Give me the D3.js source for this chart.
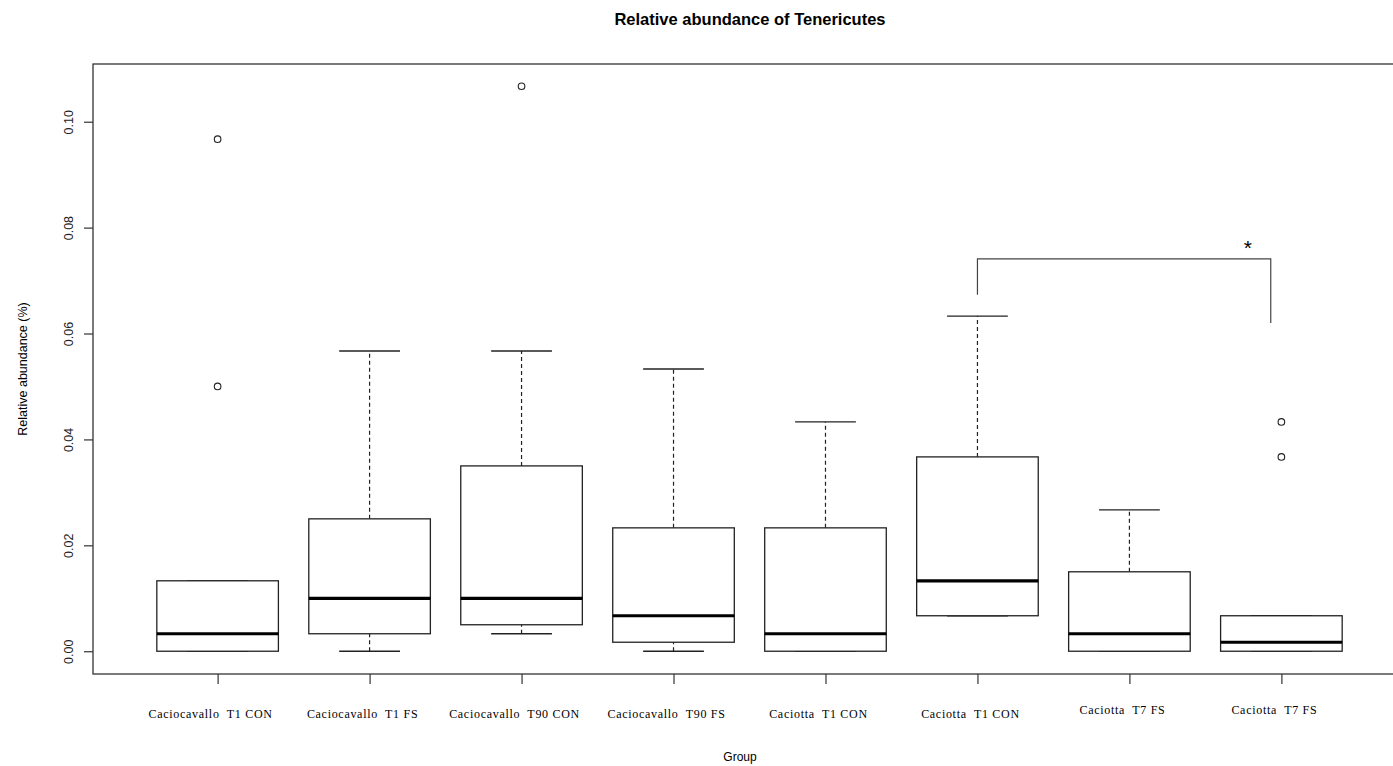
<!DOCTYPE html>
<html>
<head>
<meta charset="utf-8">
<script src="https://cdn.jsdelivr.net/npm/d3@7"></script>
<style>
body { margin: 0; background: #fff; }
svg { display: block; }
.axis path, .axis line { stroke: #333; stroke-width: 1.2; }
.axis text { font-family: "Liberation Sans", Arial, sans-serif; font-size: 12.5px; fill: #222; }
</style>
</head>
<body>
<svg id="chart"></svg>
<script>
// groups and box stats
var groups = ["Caciocavallo  T1 CON", "Caciocavallo  T1 FS", "Caciocavallo  T90 CON", "Caciocavallo  T90 FS",
              "Caciotta  T1 CON", "Caciotta  T1 CON", "Caciotta  T7 FS", "Caciotta  T7 FS"];
var lows    = [0,      0,      0.0033, 0,      0,      0.0067, 0,      0];
var q1s     = [0,      0.0033, 0.005,  0.0017, 0,      0.0067, 0,      0];
var medians = [0.0033, 0.0100, 0.0100, 0.0067, 0.0033, 0.0133, 0.0033, 0.0017];
var q3s     = [0.0133, 0.0250, 0.0350, 0.0233, 0.0233, 0.0367, 0.0150, 0.0067];
var highs   = [0.0133, 0.0567, 0.0567, 0.0533, 0.0433, 0.0633, 0.0267, 0.0067];
var outliers = [[0.05, 0.0967], [], [0.1067], [], [], [], [], [0.0367, 0.0433]];
var yTicks = [0, 0.02, 0.04, 0.06, 0.08, 0.10];

// significance bracket between group 6 and 8
var bracket = {from: 6, to: 7.93, top: 0.0741, leftEnd: 0.0673, rightEnd: 0.062, starX: 7.78};

var width = 1393, height = 766;
var svg = d3.select("#chart").attr("width", width).attr("height", height);

var x = d3.scaleLinear().domain([0.18, 8.82]).range([93, 1406]);
var y = d3.scaleLinear().domain([-0.0043, 0.1109]).range([674, 64]);

var data = groups.map(function(g, i) {
    return {name: g, pos: i + 1, lo: lows[i], q1: q1s[i], med: medians[i], q3: q3s[i], hi: highs[i], out: outliers[i]};
});

// title
svg.append("text")
    .attr("x", 750).attr("y", 25)
    .attr("text-anchor", "middle")
    .style("font-family", "Liberation Sans, Arial, sans-serif")
    .style("font-size", "16.5px").style("font-weight", "bold")
    .text("Relative abundance of Tenericutes");

// frame
svg.append("rect")
    .attr("x", x.range()[0]).attr("y", y.range()[1])
    .attr("width", x.range()[1] - x.range()[0])
    .attr("height", y.range()[0] - y.range()[1])
    .attr("fill", "none").attr("stroke", "#333").attr("stroke-width", 1.3);

// y axis
var yAxis = svg.append("g").attr("class", "axis")
    .attr("transform", "translate(93,0)")
    .call(d3.axisLeft(y).tickValues(yTicks).tickSize(9).tickFormat(d3.format(".2f")));
yAxis.select(".domain").remove();
yAxis.selectAll("text")
    .attr("x", 0).attr("dy", 0)
    .attr("text-anchor", "middle")
    .attr("transform", "translate(-20,0) rotate(-90)");

// x axis ticks
var xAxis = svg.append("g").attr("class", "axis")
    .attr("transform", "translate(0,674)")
    .call(d3.axisBottom(x).tickValues(data.map(function(d){ return d.pos; })).tickSize(10).tickFormat(""));
xAxis.select(".domain").remove();

// group labels
svg.selectAll(".glabel")
    .data(data).enter()
    .append("text")
    .attr("class", "glabel")
    .attr("x", function(d){ return x(d.pos) - 7; })
    .attr("y", function(d, i){ return i >= 6 ? 714 : 718; })
    .attr("text-anchor", "middle")
    .style("font-family", "Liberation Serif, Times New Roman, serif")
    .style("font-size", "12px")
    .style("letter-spacing", "0.7px")
    .style("white-space", "pre")
    .text(function(d){ return d.name; });

// axis titles
svg.append("text")
    .attr("x", 740).attr("y", 761)
    .attr("text-anchor", "middle")
    .style("font-family", "Liberation Sans, Arial, sans-serif").style("font-size", "12px")
    .text("Group");
svg.append("text")
    .attr("transform", "translate(27,369) rotate(-90)")
    .attr("text-anchor", "middle")
    .style("font-family", "Liberation Sans, Arial, sans-serif").style("font-size", "12.5px")
    .text("Relative abundance (%)");

// boxes
var box = svg.selectAll(".box").data(data).enter().append("g").attr("class", "box");

// whiskers (dashed)
box.append("line")
    .attr("x1", function(d){ return x(d.pos); }).attr("x2", function(d){ return x(d.pos); })
    .attr("y1", function(d){ return y(d.q3); }).attr("y2", function(d){ return y(d.hi); })
    .attr("stroke", "#222").attr("stroke-width", 1.2).attr("stroke-dasharray", "4,3");
box.append("line")
    .attr("x1", function(d){ return x(d.pos); }).attr("x2", function(d){ return x(d.pos); })
    .attr("y1", function(d){ return y(d.lo); }).attr("y2", function(d){ return y(d.q1); })
    .attr("stroke", "#222").attr("stroke-width", 1.2).attr("stroke-dasharray", "4,3");

// staples
["hi", "lo"].forEach(function(k) {
    box.append("line")
        .attr("x1", function(d){ return x(d.pos - 0.2); }).attr("x2", function(d){ return x(d.pos + 0.2); })
        .attr("y1", function(d){ return y(d[k]); }).attr("y2", function(d){ return y(d[k]); })
        .attr("stroke", "#222").attr("stroke-width", 1.3);
});

box.append("rect")
    .attr("x", function(d){ return x(d.pos - 0.4); })
    .attr("width", function(d){ return x(d.pos + 0.4) - x(d.pos - 0.4); })
    .attr("y", function(d){ return y(d.q3); })
    .attr("height", function(d){ return y(d.q1) - y(d.q3); })
    .attr("fill", "#fff").attr("stroke", "#222").attr("stroke-width", 1.3);

box.append("line")
    .attr("x1", function(d){ return x(d.pos - 0.4); }).attr("x2", function(d){ return x(d.pos + 0.4); })
    .attr("y1", function(d){ return y(d.med); }).attr("y2", function(d){ return y(d.med); })
    .attr("stroke", "#000").attr("stroke-width", 3.2);

// outliers
box.selectAll("circle")
    .data(function(d){ return d.out.map(function(v){ return {pos: d.pos, v: v}; }); })
    .enter().append("circle")
    .attr("cx", function(d){ return x(d.pos); })
    .attr("cy", function(d){ return y(d.v); })
    .attr("r", 3.3)
    .attr("fill", "none").attr("stroke", "#222").attr("stroke-width", 1.1);

// bracket + star
svg.append("path")
    .attr("d", d3.line()([
        [x(bracket.from), y(bracket.leftEnd)], [x(bracket.from), y(bracket.top)],
        [x(bracket.to), y(bracket.top)], [x(bracket.to), y(bracket.rightEnd)]
    ]))
    .attr("fill", "none").attr("stroke", "#444").attr("stroke-width", 1.2);
svg.append("text")
    .attr("x", x(bracket.starX)).attr("y", y(bracket.top) - 4)
    .attr("text-anchor", "middle")
    .style("font-family", "Liberation Sans, Arial, sans-serif").style("font-size", "21px")
    .text("*");
</script>
</body>
</html>
